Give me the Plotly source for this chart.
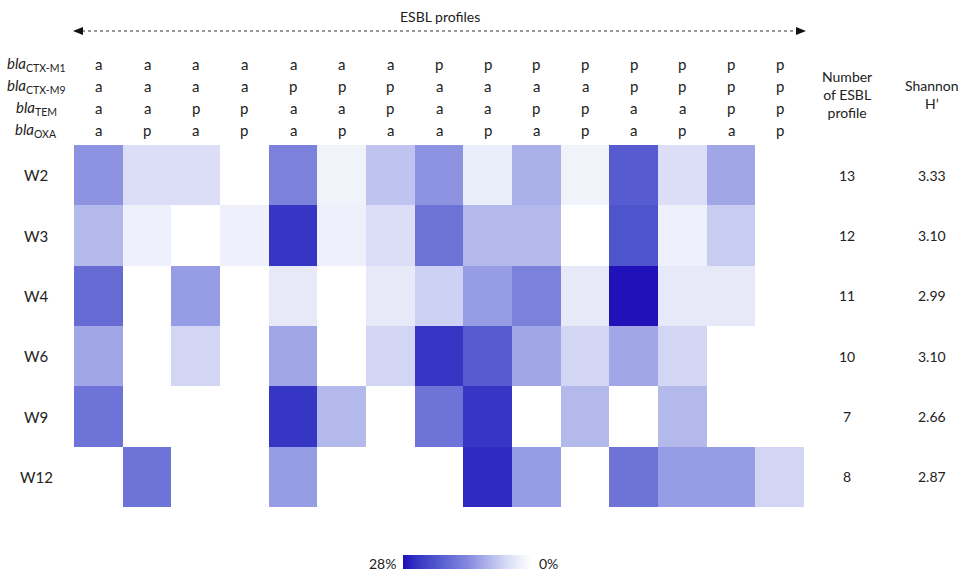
import plotly.graph_objects as go
import numpy as np

W, H = 960, 577
FONT = "Lato"

# ---------------- data ----------------
sites = ["W2", "W3", "W4", "W6", "W9", "W12"]
gene_labels = ["<i>bla</i><sub>CTX-M1</sub>", "<i>bla</i><sub>CTX-M9</sub>",
               "<i>bla</i><sub>TEM</sub>", "<i>bla</i><sub>OXA</sub>"]
bla_ctx_m1 = ["a", "a", "a", "a", "a", "a", "a", "p", "p", "p", "p", "p", "p", "p", "p"]
bla_ctx_m9 = ["a", "a", "a", "a", "p", "p", "p", "a", "a", "a", "a", "p", "p", "p", "p"]
bla_tem    = ["a", "a", "p", "p", "a", "a", "p", "a", "a", "p", "p", "a", "a", "p", "p"]
bla_oxa    = ["a", "p", "a", "p", "a", "p", "a", "a", "p", "a", "p", "a", "p", "a", "p"]

# percentage of isolates per profile (estimated from colour intensity)
w2  = [13, 5, 5, 0, 15, 2, 8, 13, 3, 10, 2, 20, 5, 11, 0]
w3  = [9, 2.5, 0, 2.5, 25, 2.5, 5, 17, 9, 9, 0, 21, 2.5, 7, 0]
w4  = [18, 0, 12, 0, 3.5, 0, 3.5, 6.5, 12, 15, 3.5, 28, 3.5, 3.5, 0]
w6  = [11, 0, 6, 0, 11, 0, 6, 25, 20, 11, 6, 11, 6, 0, 0]
w9  = [17, 0, 0, 0, 25, 9, 0, 17, 25, 0, 9, 0, 9, 0, 0]
w12 = [0, 17, 0, 0, 12, 0, 0, 0, 26, 12, 0, 17, 12, 12, 6]

n_profiles = ["13", "12", "11", "10", "7", "8"]
shannon = ["3.33", "3.10", "2.99", "3.10", "2.66", "2.87"]

zmax = 28
cbar_labels = ["28%", "0%"]

# ---------------- layout helpers ----------------
def px(x):
    return x / W

def py(y):
    return 1 - y / H

z = [w2, w3, w4, w6, w9, w12]
ncol = len(bla_ctx_m1)

colorscale = [
    [0.0, "rgb(255,255,255)"],
    [0.1, "rgb(236,238,250)"],
    [0.2, "rgb(214,217,245)"],
    [0.35, "rgb(172,178,234)"],
    [0.5, "rgb(132,137,222)"],
    [0.65, "rgb(100,106,212)"],
    [0.75, "rgb(78,84,204)"],
    [0.9, "rgb(52,52,196)"],
    [1.0, "rgb(33,17,185)"],
]

fig = go.Figure()
fig.add_trace(go.Heatmap(
    z=z, x=list(range(ncol)), y=list(range(len(sites))),
    coloraxis="coloraxis", xaxis="x", yaxis="y", hoverinfo="skip",
))

# gradient legend (28% -> 0%)
grad = np.linspace(zmax, 0, 200)
fig.add_trace(go.Heatmap(
    z=[grad], x=list(range(len(grad))), y=[0],
    coloraxis="coloraxis", xaxis="x2", yaxis="y2", hoverinfo="skip",
))

ann = []
txt = dict(family=FONT, size=14, color="#222222")
txt15 = dict(family=FONT, size=15, color="#222222")

# header a/p rows
rows_y = [64, 86, 108, 130]
for gl, pattern, yy in zip(gene_labels, [bla_ctx_m1, bla_ctx_m9, bla_tem, bla_oxa], rows_y):
    ann.append(dict(x=px(36), y=py(yy), xref="paper", yref="paper", text=gl,
                    showarrow=False, xanchor="center", yanchor="middle",
                    font=dict(family=FONT, size=15, color="#222222")))
    for i, v in enumerate(pattern):
        ann.append(dict(x=i, y=py(yy), xref="x", yref="paper", text=v,
                        showarrow=False, xanchor="center", yanchor="middle", font=txt15))

# row labels and right-hand columns
for j, s in enumerate(sites):
    ann.append(dict(x=px(36), y=j, xref="paper", yref="y", text=s, showarrow=False,
                    xanchor="center", yanchor="middle", font=txt15))
    ann.append(dict(x=px(847), y=j, xref="paper", yref="y", text=n_profiles[j], showarrow=False,
                    xanchor="center", yanchor="middle", font=txt))
    ann.append(dict(x=px(932), y=j, xref="paper", yref="y", text=shannon[j], showarrow=False,
                    xanchor="center", yanchor="middle", font=txt))

ann.append(dict(x=px(847), y=py(95), xref="paper", yref="paper",
                text="Number<br>of ESBL<br>profile", showarrow=False,
                xanchor="center", yanchor="middle", font=txt))
ann.append(dict(x=px(932), y=py(95), xref="paper", yref="paper",
                text="Shannon<br>H’", showarrow=False,
                xanchor="center", yanchor="middle", font=txt))

# title
ann.append(dict(x=px(440), y=py(17), xref="paper", yref="paper", text="ESBL profiles",
                showarrow=False, xanchor="center", yanchor="middle", font=txt))

# colorbar labels
ann.append(dict(x=px(398), y=py(563), xref="paper", yref="paper", text=cbar_labels[0],
                showarrow=False, xanchor="right", yanchor="middle", font=txt))
ann.append(dict(x=px(537), y=py(563), xref="paper", yref="paper", text=cbar_labels[1],
                showarrow=False, xanchor="left", yanchor="middle", font=txt))

def tri(tip_x, base_x, yc, half=4):
    return (f"M {px(tip_x)} {py(yc)} L {px(base_x)} {py(yc - half)} "
            f"L {px(base_x)} {py(yc + half)} Z")

shapes = [
    dict(type="line", xref="paper", yref="paper", x0=px(82), x1=px(797),
         y0=py(31), y1=py(31), line=dict(color="#333333", width=1, dash="dot")),
    dict(type="path", xref="paper", yref="paper", path=tri(73, 83, 31),
         fillcolor="#111111", line=dict(width=0)),
    dict(type="path", xref="paper", yref="paper", path=tri(806, 796, 31),
         fillcolor="#111111", line=dict(width=0)),
]

fig.update_layout(
    width=W, height=H,
    margin=dict(l=0, r=0, t=0, b=0),
    paper_bgcolor="white", plot_bgcolor="white",
    coloraxis=dict(cmin=0, cmax=zmax, colorscale=colorscale, showscale=False),
    xaxis=dict(domain=[px(74), px(804)], range=[-0.5, ncol - 0.5], visible=False),
    yaxis=dict(domain=[py(507), py(145)], range=[len(sites) - 0.5, -0.5], visible=False),
    xaxis2=dict(domain=[px(403), px(532)], range=[-0.5, len(grad) - 0.5], visible=False,
                anchor="y2"),
    yaxis2=dict(domain=[py(569), py(555)], range=[-0.5, 0.5], visible=False, anchor="x2"),
    annotations=ann, shapes=shapes,
    showlegend=False,
)

fig.write_html("out.html")
